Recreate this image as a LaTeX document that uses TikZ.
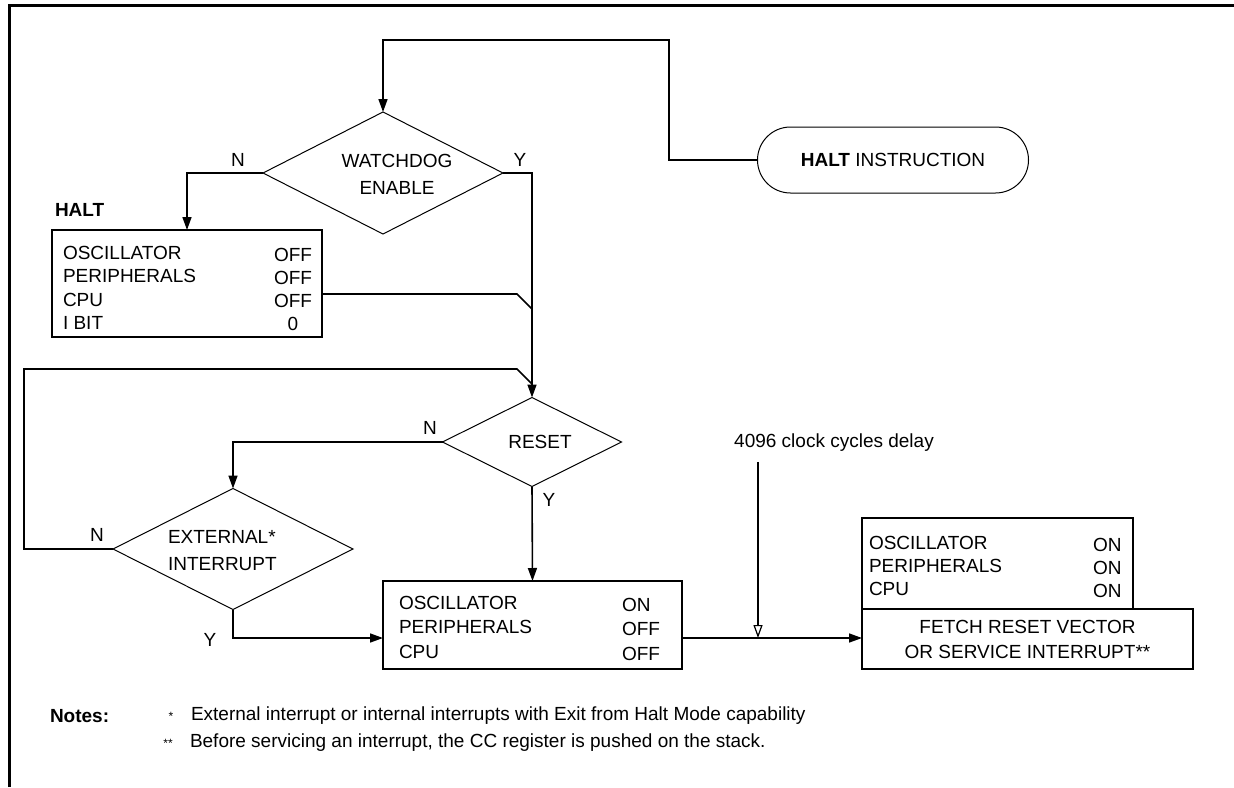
\documentclass[tikz,border=0pt]{standalone}
\usepackage{fontspec}
\setmainfont{Liberation Sans}
\usetikzlibrary{shapes.geometric,shapes.misc,arrows.meta}
\begin{document}
\begin{tikzpicture}[x=1pt,y=-1pt,
  every node/.style={inner sep=0pt,outer sep=0pt},
  txt/.style={font=\fontsize{19}{23}\selectfont},
  bx/.style={draw,line width=1.8pt,anchor=north west},
  dm/.style={draw,diamond,line width=1pt,inner sep=0pt},
  wire/.style={line width=1.6pt},
  flow/.style={line width=1.6pt,-{Triangle[length=13pt,width=9pt]}},
  oflow/.style={line width=1.6pt,-{Triangle[open,length=13pt,width=9pt,line width=1.2pt]}},
]
\useasboundingbox (0,0) rectangle (1234,787);
\draw[line width=3pt] (9.5,787) -- (9.5,5.5) -- (1234,5.5);

% terminator
\node[draw,rounded rectangle,line width=1pt,minimum width=271pt,minimum height=66pt,txt] (term) at (893,160) {\textbf{HALT} INSTRUCTION};

% watchdog diamond
\node[dm,minimum width=240pt,minimum height=122pt] (wd) at (383,173) {};
\node[txt,align=center,font=\fontsize{19}{27}\selectfont] (wdt) at (397,174) {WATCHDOG\\ENABLE};

\coordinate (tl) at (669,40);
\draw[flow] (term.west) -| (tl) -| (wd.north);

% HALT box
\node[txt,anchor=west] (haltlbl) at (55,210) {\bfseries HALT};
\node[bx,minimum width=270pt,minimum height=107pt] (halt) at (52,230) {};
\node[txt,anchor=west] (h1) at (63,253) {OSCILLATOR};
\node[txt,anchor=west] (h2) at (63,276) {PERIPHERALS};
\node[txt,anchor=west] (h3) at (63,300) {CPU};
\node[txt,anchor=west] (h4) at (63,323) {I BIT};
\node[txt] (v1) at (293,255) {OFF};
\node[txt] (v2) at (293,278) {OFF};
\node[txt] (v3) at (293,301) {OFF};
\node[txt] (v4) at (293,324) {0};

\draw[flow] (wd.west) -| (halt.north);
\node[txt] (nwd) at (238,160) {N};
\node[txt] (ywd) at (520,160) {Y};

% reset diamond
\node[dm,minimum width=179pt,minimum height=89pt] (rst) at (532,442) {};
\node[txt] (rstt) at (540,442) {RESET};
\draw[flow] (wd.east) -| (rst.north);

\coordinate (j1) at (517,294);
\coordinate (j1e) at (532,309);
\draw[wire] (halt.east |- j1) -- (j1) -- (j1e);

% external interrupt diamond
\node[dm,minimum width=240pt,minimum height=121pt] (ext) at (233,549) {};
\node[txt,anchor=west,align=left,font=\fontsize{19}{27}\selectfont] (extt) at (168,551) {EXTERNAL*\\INTERRUPT};
\draw[flow] (rst.west) -| (ext.north);
\node[txt] (nrst) at (430,428) {N};

\coordinate (lp) at (24,369);
\coordinate (j2) at (517,369);
\coordinate (j2e) at (532,384);
\draw[wire] (ext.west) -| (lp) -- (j2) -- (j2e);
\node[txt] (next) at (97,535) {N};

% middle box
\node[bx,minimum width=299pt,minimum height=88pt] (mid) at (383,581) {};
\node[txt,anchor=west] (m1) at (399,603) {OSCILLATOR};
\node[txt,anchor=west] (m2) at (399,627) {PERIPHERALS};
\node[txt,anchor=west] (m3) at (399,652) {CPU};
\node[txt,anchor=west] (mv1) at (622,605) {ON};
\node[txt,anchor=west] (mv2) at (622,629) {OFF};
\node[txt,anchor=west] (mv3) at (622,654) {OFF};
\draw[flow] (rst.south) -- (mid.north);
\node[txt] (yrst) at (549,500) {Y};

\coordinate (yl) at (0,638);
\draw[flow] (ext.south) |- (mid.west |- yl);
\node[txt] (yext) at (210,640) {Y};

% right boxes
\node[bx,minimum width=271pt,minimum height=91pt] (st) at (862,518) {};
\node[txt,anchor=west] (s1) at (869,543) {OSCILLATOR};
\node[txt,anchor=west] (s2) at (869,566) {PERIPHERALS};
\node[txt,anchor=west] (s3) at (869,589) {CPU};
\node[txt,anchor=west] (sv1) at (1093,545) {ON};
\node[txt,anchor=west] (sv2) at (1093,568) {ON};
\node[txt,anchor=west] (sv3) at (1093,591) {ON};
\node[bx,minimum width=331pt,minimum height=60pt] (fetch) at (862,609) {};
\node[txt,align=center,font=\fontsize{19}{25}\selectfont] (fetcht) at (fetch.center) {FETCH RESET VECTOR\\OR SERVICE INTERRUPT**};

\draw[flow] (mid.east |- yl) -- (fetch.west |- yl);

% delay
\node[txt] (dl) at (834,443) {4096 clock cycles delay};
\coordinate (dt) at (758,638);
\draw[oflow] ([yshift=-10pt]dl.south -| dt) -- (dt);

% notes
\node[txt,anchor=west] (notes) at (50,716) {\bfseries Notes:};
\node[font=\fontsize{12}{14}\selectfont] (st1) at (171,716) {*};
\node[txt,anchor=west] (n1) at (191,716) {External interrupt or internal interrupts with Exit from Halt Mode capability};
\node[font=\fontsize{12}{14}\selectfont] (st2) at (168,743) {**};
\node[txt,anchor=west] (n2) at (190,743) {Before servicing an interrupt, the CC register is pushed on the stack.};
\end{tikzpicture}
\end{document}
